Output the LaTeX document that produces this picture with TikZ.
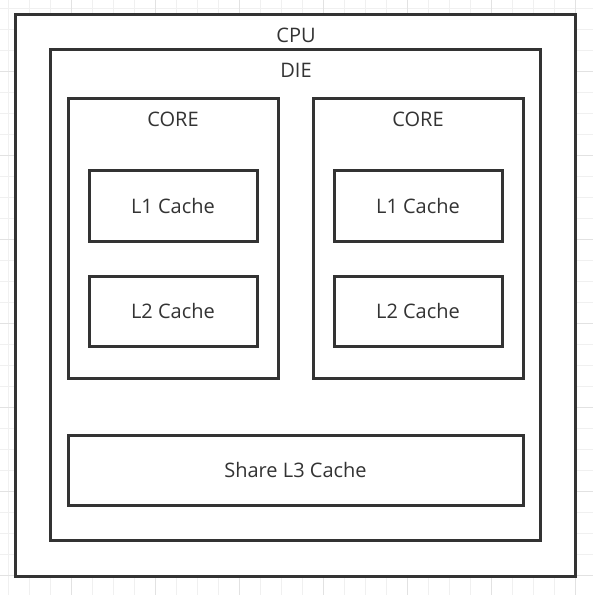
\documentclass[tikz,border=0pt]{standalone}
\usepackage{fontspec}
\setmainfont{Open Sans}
\definecolor{boxgray}{HTML}{333333}
\definecolor{gridminor}{HTML}{F0F0F0}
\definecolor{gridmajor}{HTML}{E2E2E2}
\tikzset{
  box/.style={draw=boxgray,line width=2.25pt,inner sep=0pt,fill=white},
  cell/.style={box,minimum width=126pt,minimum height=52.5pt,font=\fontsize{15}{17}\selectfont,text=boxgray},
  title/.style={inner sep=0pt,font=\fontsize{15}{17}\selectfont,text=boxgray}
}
\begin{document}
\begin{tikzpicture}[x=0.75pt,y=-0.75pt]
\useasboundingbox[fill=white] (0,0) rectangle (593,595);
% grid
\foreach \k in {0,...,28}{
  \draw[gridminor,line width=0.75pt] (8.5+21*\k,0) -- (8.5+21*\k,595);
  \draw[gridminor,line width=0.75pt] (0,8.5+21*\k) -- (593,8.5+21*\k);
}
\foreach \k in {0,...,6}{
  \draw[gridmajor,line width=0.75pt] (71.5+84*\k,0) -- (71.5+84*\k,595);
  \draw[gridmajor,line width=0.75pt] (0,71.5+84*\k) -- (593,71.5+84*\k);
}

\node[box,minimum width=420pt,minimum height=420.75pt] (cpu) at (295,295.5) {};
\node[title] (cpulabel) at (296,35.5) {CPU};
\node[box,minimum width=367.5pt,minimum height=367.5pt] (die) at (295,295) {};
\node[title] (dielabel) at (296,70.5) {DIE};

\node[box,minimum width=157.5pt,minimum height=209.25pt] (coreA) at (173,238.5) {};
\node[title] (coreAlabel) at (173,119.8) {CORE};
\node[box,minimum width=157.5pt,minimum height=209.25pt] (coreB) at (418,238.5) {};
\node[title] (coreBlabel) at (418,119.8) {CORE};

\node[cell] (lonea) at (173,206) {L1 Cache};
\node[cell] (ltwoa) at (173,311) {L2 Cache};
\node[cell] (loneb) at (418,206) {L1 Cache};
\node[cell] (ltwob) at (418,311) {L2 Cache};

\node[cell,minimum width=341.25pt] (lthree) at (295.5,470) {Share L3 Cache};
\end{tikzpicture}
\end{document}
